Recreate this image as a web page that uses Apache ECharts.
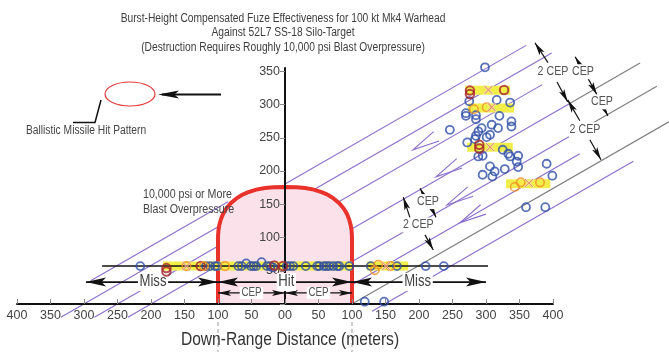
<!DOCTYPE html>
<html>
<head>
<meta charset="utf-8">
<script src="https://cdn.jsdelivr.net/npm/echarts@6/dist/echarts.min.js"></script>
<style>
  html, body { margin: 0; padding: 0; background: #fff; }
  #chart { width: 669px; height: 352px; }
</style>
</head>
<body>
<div id="chart"></div>
<script>
// ---- Data (metres: down-range distance, burst height) ----

// Kill region of 10,000 psi overpressure (outline, left to right)
const archOutline = [
  [-100, 0], [-100, 95], [-99.9, 103], [-99.3, 111], [-98, 119], [-95.8, 127],
  [-92.5, 135.5], [-87.7, 143.6], [-81, 151.7], [-71.2, 159.8], [-64.5, 163.9],
  [-55.7, 167.9], [-42.9, 172], [-30, 174.4], [-17.3, 175.6], [0, 176],
  [17.3, 175.6], [30, 174.4], [42.9, 172], [55.7, 167.9], [64.5, 163.9],
  [71.2, 159.8], [81, 151.7], [87.7, 143.6], [92.5, 135.5], [95.8, 127],
  [98, 119], [99.3, 111], [99.9, 103], [100, 95], [100, 0]
];

// Re-entry trajectories: [xStart, yStart, xEnd, yEnd, tone] (tone 1 = grey boundary)
const trajectories = [
  [-290, 35, -85, 153.7, 0],
  [-334.5, -20, -90, 121.8, 0],
  [-284.5, -20, -95, 89.9, 0],
  [-234.5, -20, -95, 61, 0],
  [0, 180.4, 360, 389, 0],
  [20, 158.7, 398, 377.6, 0],
  [40, 130.5, 384, 330, 0],
  [60, 90, 425, 301.6, 0],
  [425, 301.6, 530, 362.5, 1],
  [90, 58, 440, 261, 0],
  [440, 261, 555, 327.7, 1],
  [95, 26, 440, 226, 0],
  [100, 0, 573, 274, 1],
  [130, -11, 520, 214.6, 0]
];

// Burst-height line and highlighted bands [xFrom, xTo, height]
const burstLine = [[-273, 57], [303, 57]];
const bands = [
  [-182, 100, 57], [122, 184, 57],
  [269, 336, 321.5], [273, 342, 295], [272, 340, 235.7], [330, 396, 181]
];

// Detonation points [down-range, height]
const blueHits = [
  [-216, 57], [-118, 57], [-112, 57], [-104.5, 57], [-101, 57], [-69.7, 57],
  [-64.7, 57], [-58, 61], [-51, 57], [-47, 57], [-43, 57], [-35, 63], [-27, 57],
  [-22, 57], [-18, 55], [2.5, 57], [7.5, 57], [12.4, 57], [31, 57], [48, 57],
  [51, 57], [58, 57], [62, 57], [66, 57], [72, 57], [78, 57], [81, 57], [96, 57],
  [128, 57], [167, 57], [210, 57], [237, 57], [119, 3.5], [148, 3.5],
  [298.5, 356], [275, 305], [316, 307], [336, 303], [270, 287], [270, 283],
  [285, 284], [285, 278], [320, 283], [338, 274.6], [338, 267], [246, 262],
  [293.5, 264.6], [288.6, 259.6], [308.5, 269.6], [318, 264.6], [306, 254.5],
  [301, 251], [285, 253], [283.6, 248], [272, 243], [325, 232], [333.3, 226],
  [336, 222], [348, 223], [288.5, 222], [295, 223], [345.8, 214.3], [348, 206],
  [306, 207], [313, 199.4], [309.5, 191.9], [295, 194.4], [328, 203],
  [390.5, 211], [399, 193], [359.7, 145.6], [388.5, 145.6]
];
const redHits = [
  [-177, 54], [-177, 49], [-126, 57], [-16, 58], [-3, 57],
  [276, 321], [276, 316], [327, 322], [290, 239.5], [290, 234]
];
const orangeHits = [
  [-147, 57], [-121, 57], [-89.5, 57], [139, 59], [134, 51], [157, 57],
  [282, 293], [301, 296], [343, 176], [351.8, 183], [380.6, 183]
];
const crossHits = [
  [-147, 57], [151, 57], [303.5, 322], [308.5, 296], [306, 236], [364, 182]
];

// Miss / Hit / CEP spans [xFrom, xTo, height, weight]
const spans = [
  [-297, -100, 33, 0], [-100, 100, 33, 0], [100, 300, 33, 0],
  [-100, 0, 16.6, 1], [0, 100, 16.6, 1]
];
const spanLabels = [
  [-197, 33, 'Miss', 0], [2, 33, 'Hit', 0], [198, 33, 'Miss', 0],
  [-50, 16.6, 'CEP', 1], [50, 16.6, 'CEP', 1]
];

// Spacing arrows between trajectories [tailX, tailY, tipX, tipY]
const spacingArrows = [
  [392.5, 363, 373, 393], [406, 334, 422, 304],
  [440, 360, 433, 372], [450.7, 342, 465.7, 314.8],
  [474.6, 296.7, 482, 283],
  [440, 275.6, 422, 307], [455, 247, 471.6, 217],
  [208, 162, 201.5, 174], [219.4, 143, 225.4, 130.6],
  [186.6, 129.5, 176.6, 160.7], [209, 104, 221.3, 81.3]
];
const spacingTick = [[422.4, 307], [443.3, 317.8]];
const spacingLabels = [
  [400, 349.4, '2 CEP'], [444.8, 349.4, 'CEP'], [473, 304, 'CEP'],
  [447.8, 262, '2 CEP'], [213.4, 154, 'CEP'], [199, 119, '2 CEP']
];

// Direction chevrons on trajectories (tip positions)
const chevrons = [[191, 232], [225.4, 191.3], [241.8, 149], [261, 122]];

const xTicks = { min: -400, max: 400, step: 50 };
const yTicks = { min: 0, max: 355, step: 50 };

// ---- Styling ----
const SANS = "'Liberation Sans', Arial, sans-serif";
const NARROW_SCALE = 0.82;          // condensed look for Arial-metric text
const TEXT = '#3d3d3d';
const PURPLE = '#8a6fca';
const GREYLINE = '#7d7d7d';
const BLUE = '#2f4fa6';
const RED = '#a5232c';
const ORANGE = '#f39126';
const YELLOW = '#f1ee4a';

const GRID = { left: 17, right: 116, top: 68, bottom: 48 };

function arrowHead(tip, dx, dy, len, half) {
  const n = Math.hypot(dx, dy); const ux = dx / n, uy = dy / n;
  const px = -uy, py = ux;
  return [
    tip,
    [tip[0] - ux * len + px * half, tip[1] - uy * len + py * half],
    [tip[0] - ux * len * 0.78, tip[1] - uy * len * 0.78],
    [tip[0] - ux * len - px * half, tip[1] - uy * len - py * half]
  ];
}

function narrowText(x, y, text, size, color, extra) {
  return {
    type: 'text', x: x, y: y, z: 10, scaleX: NARROW_SCALE,
    style: Object.assign({ text: text, font: size + 'px ' + SANS, fill: color }, extra || {})
  };
}

const chart = echarts.init(document.getElementById('chart'), null, { renderer: 'canvas' });
const plotWidth = 669 - GRID.left - GRID.right;
// y-axis sits at zero down-range distance
const yAxisOffset = -plotWidth * (0 - xTicks.min) / (xTicks.max - xTicks.min);

const option = {
  animation: false,
  backgroundColor: '#fff',
  grid: Object.assign({ containLabel: false, outerBoundsMode: 'none' }, GRID),
  xAxis: {
    type: 'value', min: xTicks.min, max: xTicks.max, interval: xTicks.step, z: 4,
    axisLine: { onZero: false, lineStyle: { color: '#111', width: 2 } },
    axisTick: { inside: true, length: 5, lineStyle: { color: '#888' } },
    axisLabel: { fontFamily: SANS, fontSize: 12.5, color: '#444', margin: 5,
      formatter: v => (v === 0 ? '00' : String(Math.abs(v))) },
    splitLine: { show: false }
  },
  yAxis: {
    type: 'value', min: yTicks.min, max: yTicks.max, interval: yTicks.step, z: 4,
    offset: yAxisOffset,
    axisLine: { onZero: false, lineStyle: { color: '#111', width: 2 } },
    axisTick: { length: 5, lineStyle: { color: '#888' } },
    axisLabel: { fontFamily: SANS, fontSize: 12.5, color: '#444', margin: 5,
      formatter: v => (v === 0 ? '' : String(v)) },
    splitLine: { show: false }
  },
  graphic: [
    narrowText(283, 11, 'Burst-Height Compensated Fuze Effectiveness for 100 kt Mk4 Warhead\nAgainst 52L7 SS-18 Silo-Target\n(Destruction Requires Roughly 10,000 psi Blast Overpressure)',
      12.5, TEXT, { textAlign: 'center', lineHeight: 14.5 }),
    { type: 'ellipse', shape: { cx: 130, cy: 94, rx: 25, ry: 12 }, z: 10,
      style: { fill: 'none', stroke: '#e53b3b', lineWidth: 1.2 } },
    { type: 'line', shape: { x1: 221, y1: 94.5, x2: 162, y2: 94.5 }, z: 10,
      style: { stroke: '#111', lineWidth: 1.8 } },
    { type: 'polygon', shape: { points: arrowHead([158, 94.5], -1, 0, 21, 4) }, z: 10,
      style: { fill: '#111' } },
    { type: 'polyline', shape: { points: [[101, 100], [95, 122.5], [73, 122.5]] }, z: 10,
      style: { stroke: '#111', lineWidth: 1.5, fill: 'none' } },
    narrowText(26, 131, 'Ballistic Missile Hit Pattern', 12.5, '#444', { textVerticalAlign: 'middle' }),
    narrowText(143, 187, '10,000 psi or More\nBlast Overpressure', 13, '#444', { lineHeight: 15 }),
    narrowText(290, 340, 'Down-Range Distance (meters)', 19, '#333', { textAlign: 'center', textVerticalAlign: 'middle' })
  ],
  series: [
    { // trajectories
      type: 'custom', z: 1, clip: false, silent: true,
      encode: { x: [0, 2], y: [1, 3] },
      data: trajectories,
      renderItem: (params, api) => {
        const a = api.coord([api.value(0), api.value(1)]);
        const b = api.coord([api.value(2), api.value(3)]);
        return { type: 'line', shape: { x1: a[0], y1: a[1], x2: b[0], y2: b[1] },
          style: { stroke: api.value(4) ? GREYLINE : PURPLE, lineWidth: 1.1 } };
      }
    },
    { // trajectory chevrons
      type: 'custom', z: 1, clip: false, silent: true,
      data: chevrons,
      renderItem: (params, api) => {
        const t = api.coord([api.value(0), api.value(1)]);
        const f = api.coord([api.value(0) + 20, api.value(1) + 11.6]);
        const dx = f[0] - t[0], dy = f[1] - t[1], n = Math.hypot(dx, dy);
        const ux = dx / n, uy = dy / n, L = 27, s = 0.2;
        const p1 = [t[0] + L * (ux - s * uy), t[1] + L * (uy + s * ux)];
        const p2 = [t[0] + L * (ux + s * uy), t[1] + L * (uy - s * ux)];
        return { type: 'polyline', shape: { points: [p1, t, p2] },
          style: { stroke: PURPLE, lineWidth: 1.1, fill: 'none' } };
      }
    },
    { // overpressure region
      type: 'custom', z: 2, clip: false, silent: true,
      data: [[0, 0]],
      renderItem: (params, api) => {
        const pts = archOutline.map(p => api.coord(p));
        return { type: 'group', children: [
          { type: 'polygon', shape: { points: pts }, style: { fill: '#fbe1ea' } },
          { type: 'polyline', shape: { points: pts }, style: { stroke: '#e8322b', lineWidth: 4, fill: 'none' } }
        ] };
      }
    },
    { // highlight bands
      type: 'custom', z: 3, clip: false, silent: true,
      data: bands,
      renderItem: (params, api) => {
        const a = api.coord([api.value(0), api.value(2)]);
        const b = api.coord([api.value(1), api.value(2)]);
        return { type: 'rect', shape: { x: a[0], y: a[1] - 4.5, width: b[0] - a[0], height: 9 },
          style: { fill: YELLOW } };
      }
    },
    { // burst height line
      type: 'line', z: 3, clip: false, silent: true, symbol: 'none',
      data: burstLine, lineStyle: { color: '#111', width: 1.5 }
    },
    { // range guides below axis
      type: 'custom', z: 3, clip: false, silent: true,
      data: [[-100], [100]],
      renderItem: (params, api) => {
        const a = api.coord([api.value(0), -27]);
        const b = api.coord([api.value(0), -80]);
        return { type: 'line', shape: { x1: a[0], y1: a[1], x2: b[0], y2: b[1] },
          style: { stroke: '#999', lineWidth: 1, lineDash: [4, 3] } };
      }
    },
    { // Miss / Hit / CEP spans
      type: 'custom', z: 5, clip: false, silent: true,
      data: spans,
      renderItem: (params, api) => {
        const a = api.coord([api.value(0), api.value(2)]);
        const b = api.coord([api.value(1), api.value(2)]);
        const big = api.value(3) === 0;
        const L = big ? 20 : 13, H = big ? 4.5 : 3;
        return { type: 'group', children: [
          { type: 'line', shape: { x1: a[0], y1: a[1], x2: b[0], y2: b[1] },
            style: { stroke: '#111', lineWidth: big ? 1.8 : 1.2 } },
          { type: 'polygon', shape: { points: arrowHead(a, -1, 0, L, H) }, style: { fill: '#111' } },
          { type: 'polygon', shape: { points: arrowHead(b, 1, 0, L, H) }, style: { fill: '#111' } }
        ] };
      }
    },
    { // span labels
      type: 'custom', z: 6, clip: false, silent: true,
      data: spanLabels.map(d => [d[0], d[1]]),
      renderItem: (params, api) => {
        const d = spanLabels[params.dataIndex];
        const p = api.coord([d[0], d[1]]);
        const big = d[3] === 0;
        return { type: 'text', x: p[0], y: p[1], scaleX: NARROW_SCALE,
          style: { text: d[2], font: (big ? '16px ' : '12px ') + SANS, fill: big ? '#444' : '#555',
            textAlign: 'center', textVerticalAlign: 'middle', backgroundColor: '#fff',
            padding: big ? [1, 2] : [0, 2] } };
      }
    },
    { // spacing arrows between trajectories
      type: 'custom', z: 5, clip: false, silent: true,
      data: spacingArrows,
      renderItem: (params, api) => {
        const t = api.coord([api.value(0), api.value(1)]);
        const h = api.coord([api.value(2), api.value(3)]);
        return { type: 'group', children: [
          { type: 'line', shape: { x1: t[0], y1: t[1], x2: h[0], y2: h[1] }, style: { stroke: '#111', lineWidth: 1.2 } },
          { type: 'polygon', shape: { points: arrowHead(h, h[0] - t[0], h[1] - t[1], 13, 3) }, style: { fill: '#111' } }
        ] };
      }
    },
    { // junction tick
      type: 'line', z: 5, clip: false, silent: true, symbol: 'none',
      data: spacingTick, lineStyle: { color: '#111', width: 1.2 }
    },
    { // spacing labels
      type: 'custom', z: 6, clip: false, silent: true,
      data: spacingLabels.map(d => [d[0], d[1]]),
      renderItem: (params, api) => {
        const d = spacingLabels[params.dataIndex];
        const p = api.coord([d[0], d[1]]);
        return { type: 'text', x: p[0], y: p[1], scaleX: NARROW_SCALE,
          style: { text: d[2], font: '13px ' + SANS, fill: '#555', textAlign: 'center',
            textVerticalAlign: 'middle', backgroundColor: '#fff', padding: [1, 1] } };
      }
    },
    { type: 'scatter', z: 7, clip: false, silent: true, data: blueHits, symbol: 'circle', symbolSize: 8,
      itemStyle: { color: 'rgba(0,0,0,0)', borderColor: BLUE, borderWidth: 1.8 } },
    { type: 'scatter', z: 7, clip: false, silent: true, data: redHits, symbol: 'circle', symbolSize: 8.5,
      itemStyle: { color: 'rgba(0,0,0,0)', borderColor: RED, borderWidth: 2 } },
    { type: 'scatter', z: 7, clip: false, silent: true, data: orangeHits, symbol: 'circle', symbolSize: 8.5,
      itemStyle: { color: 'rgba(0,0,0,0)', borderColor: ORANGE, borderWidth: 1.6 } },
    { type: 'scatter', z: 8, clip: false, silent: true, data: crossHits, symbolSize: 9,
      symbol: 'path://M0,1.2L1.2,0L5,3.8L8.8,0L10,1.2L6.2,5L10,8.8L8.8,10L5,6.2L1.2,10L0,8.8L3.8,5Z',
      itemStyle: { color: '#e4806e', borderColor: '#fff', borderWidth: 0.6 } }
  ]
};

chart.setOption(option);
</script>
</body>
</html>
